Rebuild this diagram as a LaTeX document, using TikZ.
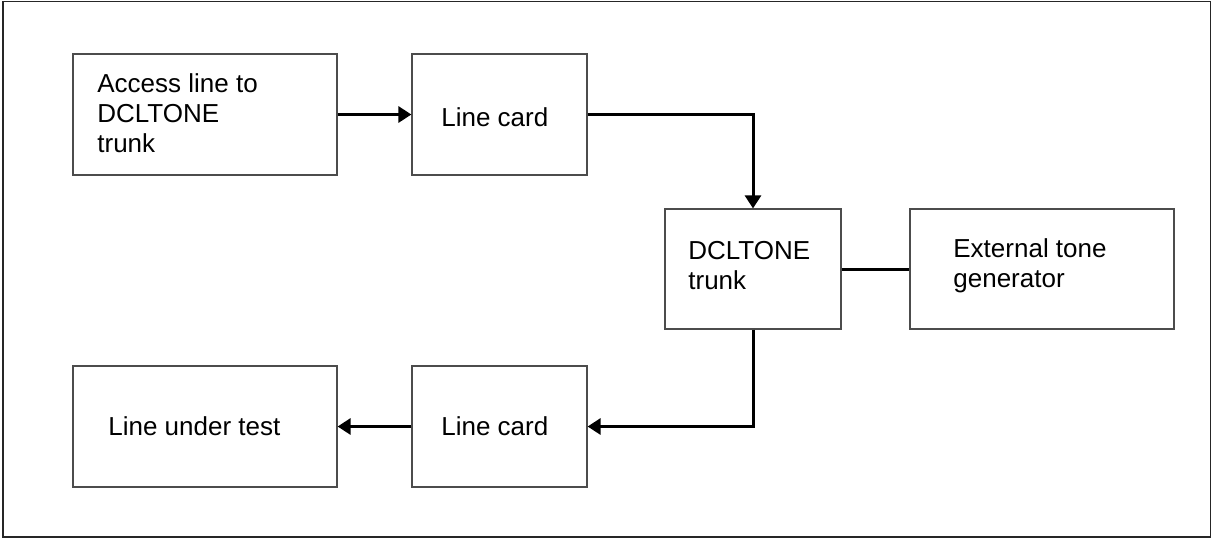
\documentclass[tikz,border=0pt]{standalone}
\usepackage{fontspec}
\setmainfont{Liberation Sans}
\usetikzlibrary{arrows.meta}
\begin{document}
\begin{tikzpicture}[x=0.5pt,y=-0.5pt,
  box/.style={draw=black!70, line width=0.6pt, rectangle, inner sep=0pt},
  txt/.style={inner sep=0pt, anchor=west, align=left, font=\fontsize{13pt}{15pt}\selectfont},
  conn/.style={line width=1.5pt, black},
  arr/.style={conn, -{Triangle[length=6.5pt,width=8pt]}},
  frame/.style={draw=black!85, line width=0.6pt}]
\useasboundingbox (0,0) rectangle (1212,538);
\draw[frame] (3,1.5) rectangle (1210.5,537);
% boxes
\node[box, minimum width=132pt, minimum height=60.5pt] (b1) at (205,114.5) {};
\node[box, minimum width=87.5pt, minimum height=60.5pt] (b2) at (499.5,114.5) {};
\node[box, minimum width=88pt, minimum height=60pt] (b3) at (753,269) {};
\node[box, minimum width=132pt, minimum height=60pt] (b4) at (1042,269) {};
\node[box, minimum width=132pt, minimum height=60.5pt] (b5) at (205,426.5) {};
\node[box, minimum width=87.5pt, minimum height=60.5pt] (b6) at (499.5,426.5) {};
% texts
\node[txt] (t1) at (97,113) {Access line to\\DCLTONE\\trunk};
\node[txt] (t2) at (441,117) {Line card};
\node[txt] (t3) at (688,266) {DCLTONE\\trunk};
\node[txt] (t4) at (953,266) {External tone\\generator};
\node[txt] (t5) at (108,426) {Line under test};
\node[txt] (t6) at (441,426) {Line card};
% connectors
\draw[arr] (b1.east) -- (b2.west);
\draw[arr] (b2.east) -| (b3.north);
\draw[conn] (b3.east) -- (b4.west);
\draw[arr] (b3.south) |- (b6.east);
\draw[arr] (b6.west) -- (b5.east);
\end{tikzpicture}
\end{document}
